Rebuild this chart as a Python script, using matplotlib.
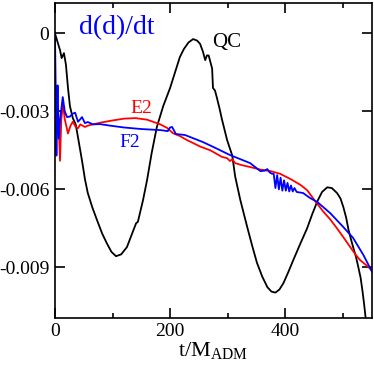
import numpy as np
import matplotlib
matplotlib.use('Agg')
import matplotlib.pyplot as plt

plt.rcParams['font.family'] = 'Liberation Serif'
plt.rcParams['mathtext.fontset'] = 'custom'
plt.rcParams['mathtext.rm'] = 'Liberation Serif'
plt.rcParams['axes.unicode_minus'] = False

# values, v in units of 1e-3
qc_t = [0, 4, 8.7, 11.6, 15.6, 19, 22.6, 26, 31, 36, 40, 47, 52, 57, 65, 73, 82, 90,
        98, 106, 115, 125, 134, 141, 144, 153, 160, 168, 177, 188, 200, 210, 217, 224,
        232, 240, 247, 252, 257, 261, 264, 267, 270, 273, 274.5, 278, 281, 286, 290,
        299, 308, 313, 322, 334, 343, 351, 360, 369, 376, 383, 390, 397, 405, 414,
        426, 438, 447, 456, 464, 473, 481, 490, 496, 501, 506, 510, 514, 518, 523,
        527, 531, 534, 537, 540]
qc_v = [0, -0.3, -0.64, -0.95, -0.76, -1.2, -2.1, -2.8, -3.26, -3.5, -4.0, -4.9, -5.6,
        -6.14, -6.7, -7.18, -7.7, -8.07, -8.4, -8.57, -8.5, -8.22, -7.7, -7.3, -7.25,
        -6.41, -5.64, -4.6, -3.6, -2.8, -2.1, -1.4, -0.91, -0.6, -0.35, -0.22, -0.28,
        -0.4, -0.7, -1.03, -0.85, -0.85, -1.1, -1.35, -2.1, -2.2, -2.45, -2.9, -3.3,
        -4.1, -4.7, -5.5, -6.41, -7.45, -8.2, -8.83, -9.35, -9.76, -9.93, -9.97, -9.85,
        -9.6, -9.2, -8.72, -8.1, -7.5, -6.95, -6.45, -6.1, -5.92, -5.95, -6.14, -6.35,
        -6.68, -7.1, -7.56, -7.9, -8.22, -8.6, -8.99, -9.4, -9.87, -10.4, -11.0]

e2_t = [5, 7, 8.7, 11, 13.9, 17, 22.6, 27, 31, 36, 40, 44, 48, 52, 57, 66, 80, 100,
        120, 140, 160, 183, 195, 205, 217, 229, 252, 270, 290, 299, 304, 308, 313,
        325, 339, 357, 375, 391, 409, 426, 438, 452, 466, 478, 490, 501, 513, 522,
        530, 540, 551]
e2_v = [-2.8, -3.8, -4.9, -3.3, -2.7, -3.3, -3.85, -3.55, -3.4, -3.6, -3.65, -3.5,
        -3.55, -3.6, -3.55, -3.5, -3.43, -3.35, -3.28, -3.26, -3.32, -3.5, -3.64,
        -3.84, -3.95, -4.1, -4.35, -4.5, -4.75, -4.8, -4.91, -4.84, -4.99, -5.07,
        -5.14, -5.24, -5.3, -5.4, -5.6, -5.82, -6.03, -6.45, -6.85, -7.15, -7.5,
        -7.84, -8.22, -8.5, -8.72, -8.9, -9.12]

f2_t = [0, 1.5, 2.5, 3.5, 4.5, 6.5, 9, 13.5, 17, 21, 26, 30, 35, 40, 44, 47, 52, 57,
        66, 78, 96, 120, 150, 183, 196, 200, 203.5, 210, 226, 257, 280, 304, 320,
        339, 357, 364, 369, 373, 377, 380, 383, 386, 389, 392, 395, 398, 401, 404,
        407, 410, 413, 416, 420, 431, 443, 456, 478, 501, 518, 536, 551]
f2_v = [0, -2.5, -4.7, -3.0, -2.0, -4.05, -3.3, -2.45, -3.0, -3.22, -3.2, -3.1, -3.05,
        -3.4, -3.3, -3.22, -3.45, -3.41, -3.5, -3.49, -3.55, -3.62, -3.68, -3.72,
        -3.76, -3.62, -3.6, -3.87, -3.91, -4.18, -4.42, -4.68, -4.82, -4.99, -5.3,
        -5.28, -5.22, -5.35, -5.4, -5.4, -5.95, -5.45, -6.0, -5.55, -6.05, -5.65,
        -6.05, -5.75, -6.08, -5.85, -6.08, -5.95, -6.1, -6.14, -6.33, -6.49, -6.91,
        -7.45, -7.87, -8.53, -9.18]

fig = plt.figure(figsize=(3.74, 3.67), dpi=100)
ax = fig.add_axes([0.147, 0.134, 0.848, 0.858])

ax.plot(qc_t, np.array(qc_v) * 1e-3, color='black', lw=1.3)
ax.plot(e2_t, np.array(e2_v) * 1e-3, color='red', lw=1.3)
ax.plot(f2_t, np.array(f2_v) * 1e-3, color='blue', lw=1.3)

ax.set_xlim(0, 551)
ax.set_ylim(-0.01094, 0.00117)
ax.set_xticks([0, 200, 400])
ax.set_xticks([100, 300, 500], minor=True)
ax.set_yticks([0, -0.003, -0.006, -0.009])
ax.set_yticklabels(['0', '-0.003', '-0.006', '-0.009'])
ax.tick_params(which='both', direction='in', top=True, right=True,
               labelsize=14, width=1.2)
ax.tick_params(which='major', length=7, pad=4)
ax.tick_params(which='minor', length=3.5)
for s in ax.spines.values():
    s.set_linewidth(1.2)

ax.set_xlabel(r'$\mathregular{t/M_{ADM}}$', fontsize=16, labelpad=0)

ax.text(0.075, 0.96, 'd(d)/dt', transform=ax.transAxes, color='blue',
        fontsize=20, va='top', ha='left')
ax.text(0.497, 0.875, 'QC', transform=ax.transAxes, color='black', fontsize=15,
        ha='left', va='center')
ax.text(0.237, 0.665, 'E2', transform=ax.transAxes, color='red', fontsize=14,
        ha='left', va='center')
ax.text(0.204, 0.557, 'F2', transform=ax.transAxes, color='blue', fontsize=14,
        ha='left', va='center')

fig.savefig('out.png', dpi=100)
